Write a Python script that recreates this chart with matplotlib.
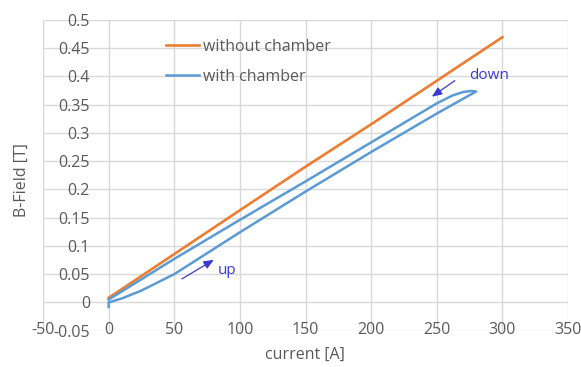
import matplotlib
matplotlib.use("Agg")
import matplotlib.pyplot as plt

plt.rcParams['font.family'] = ['Open Sans', 'DejaVu Sans']

# Data
current_without = [0, 100, 150, 200, 300]
bfield_without = [0.008, 0.163, 0.240, 0.315, 0.469]

current_with = [0, 0, 10, 25, 50, 75, 100, 150, 200, 250, 280,
                276, 270, 262, 250, 200, 150, 100, 50, 0]
bfield_with = [-0.008, 0.0, 0.007, 0.021, 0.050, 0.087, 0.124, 0.196, 0.266, 0.334, 0.373,
               0.374, 0.372, 0.366, 0.352, 0.283, 0.214, 0.146, 0.077, 0.005]

x_ticks = [-50, 0, 50, 100, 150, 200, 250, 300, 350]
y_ticks = [-0.05, 0, 0.05, 0.1, 0.15, 0.2, 0.25, 0.3, 0.35, 0.4, 0.45, 0.5]
y_tick_labels = ["-0.05", "0", "0.05", "0.1", "0.15", "0.2", "0.25", "0.3", "0.35", "0.4", "0.45", "0.5"]

ORANGE = "#ED7D31"
BLUE = "#5B9BD5"
TXT = "#595959"
GRID = "#D9D9D9"
ANNOT = "#3A3AD0"

fig = plt.figure(figsize=(5.81, 3.67), dpi=100)
ax = fig.add_axes([43/581, 1-330.7/367, (568-43)/581, (330.7-19.7)/367])

ax.plot(current_without, bfield_without, color=ORANGE, lw=1.9, label="without chamber", zorder=3)
ax.plot(current_with, bfield_with, color=BLUE, lw=1.8, label="with chamber", zorder=3)

ax.set_xlim(-50, 350)
ax.set_ylim(-0.05, 0.5)
ax.set_xticks(x_ticks)
ax.set_xticklabels([str(v) for v in x_ticks])
ax.set_yticks(y_ticks)
ax.set_yticklabels(y_tick_labels)
ax.grid(True, color=GRID, lw=1.0, zorder=0)
ax.set_axisbelow(True)

for s in ['top', 'right']:
    ax.spines[s].set_visible(False)
ax.spines['left'].set_position(('data', 0))
ax.spines['left'].set_visible(False)
ax.spines['bottom'].set_visible(False)
ax.tick_params(axis='y', length=0, pad=13.5, labelsize=11.5, labelcolor=TXT)
ax.tick_params(axis='x', length=0, pad=-6.6, labelsize=11.5, labelcolor=TXT)

fig.text(22/581, 1-180/367, "B-Field [T]", rotation=90, ha='center', va='center',
         fontsize=11.5, color=TXT)
fig.text(305/581, 1-355/367, "current [A]", ha='center', va='center',
         fontsize=11.5, color=TXT)

leg = ax.legend(loc='upper left', bbox_to_anchor=(166/581, 1-39/367),
                bbox_transform=fig.transFigure, frameon=False, fontsize=11.5,
                handlelength=2.05, handletextpad=0.25, labelspacing=0.85,
                borderpad=0, borderaxespad=0)
for t in leg.get_texts():
    t.set_color(TXT)

# annotations
ax.annotate("", xy=(82, 0.078), xytext=(54, 0.039),
            arrowprops=dict(arrowstyle="-|>,head_length=0.6,head_width=0.25",
                            color=ANNOT, lw=0.9))
ax.text(83, 0.057, "up", color=ANNOT, fontsize=11, va='center', ha='left')
ax.annotate("", xy=(244.5, 0.361), xytext=(265.5, 0.395),
            arrowprops=dict(arrowstyle="-|>,head_length=0.6,head_width=0.25",
                            color=ANNOT, lw=0.9))
ax.text(275, 0.402, "down", color=ANNOT, fontsize=11, va='center', ha='left')

fig.savefig("out.png", dpi=100)
